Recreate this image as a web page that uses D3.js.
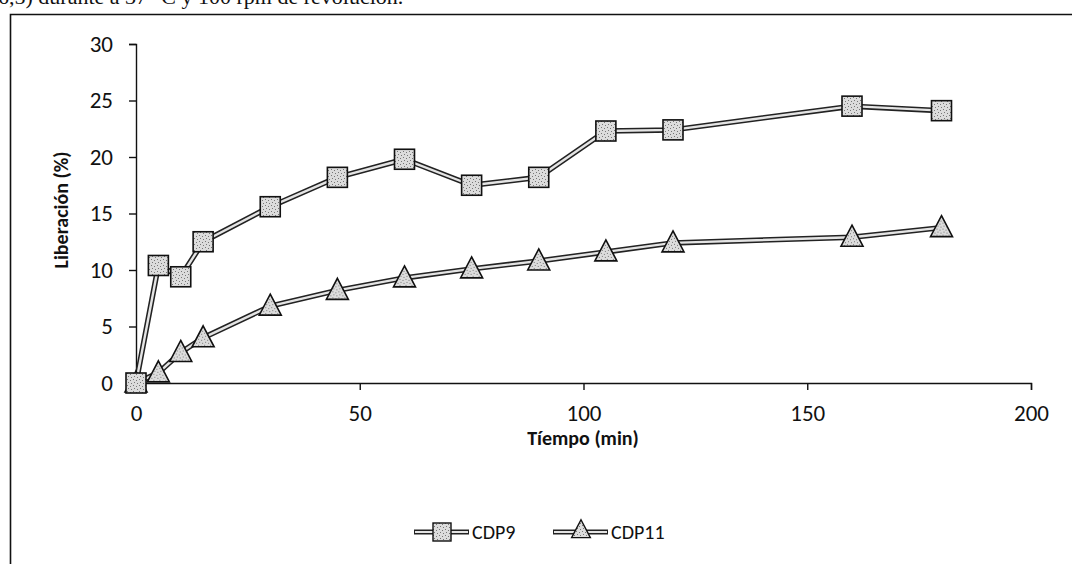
<!DOCTYPE html>
<html><head><meta charset="utf-8">
<script src="https://cdn.jsdelivr.net/npm/d3@7"></script>
<style>
html,body{margin:0;padding:0;background:#fff;}
svg{display:block;}
</style></head>
<body>
<svg id="c" width="1072" height="564"></svg>
<script>
const times = [0, 5, 10, 15, 30, 45, 60, 75, 90, 105, 120, 160, 180];
const cdp9  = [0, 10.4, 9.4, 12.5, 15.6, 18.2, 19.8, 17.5, 18.2, 22.3, 22.4, 24.5, 24.1];
const cdp11 = [0, 0.9, 2.7, 4.0, 6.8, 8.2, 9.3, 10.1, 10.8, 11.6, 12.4, 12.9, 13.75];
const seriesNames = ["CDP9", "CDP11"];
const xTicks = [0, 50, 100, 150, 200];
const yTicks = [0, 5, 10, 15, 20, 25, 30];
const xTitle = "Tíempo (min)";
const yTitle = "Liberación (%)";
const headerText = "6,5) durante a 37 °C y 100 rpm de revolución.";

const svg = d3.select("#c");
const font = "Carlito, Lato, 'Open Sans', sans-serif";

// stipple pattern
const defs = svg.append("defs");
const pat = defs.append("pattern").attr("id","stip").attr("width",6).attr("height",6).attr("patternUnits","userSpaceOnUse");
pat.append("rect").attr("width",6).attr("height",6).attr("fill","#dcdcdc");
[[1,1],[4,2],[2,4],[5,5]].forEach(p=>pat.append("rect").attr("x",p[0]).attr("y",p[1]).attr("width",1).attr("height",1).attr("fill","#777"));

// header text (cut off at top, as in the scan)
svg.append("text").attr("x",-2).attr("y",4).attr("font-family","'Liberation Serif', serif")
  .attr("font-size",22).attr("fill","#111").text(headerText);

// chart frame
svg.append("path").attr("d","M10.5,564 V14.5 H1072").attr("fill","none").attr("stroke","#111").attr("stroke-width",1.6);

const x = d3.scaleLinear().domain([0,200]).range([136,1031]);
const y = d3.scaleLinear().domain([0,30]).range([383,44]);

const xAxis = svg.append("g").attr("transform","translate(0,383)")
  .call(d3.axisBottom(x).tickValues(xTicks).tickSize(7).tickPadding(15));
const yAxis = svg.append("g").attr("transform","translate(136,0)")
  .call(d3.axisLeft(y).tickValues(yTicks).tickSize(7).tickPadding(16));
[xAxis,yAxis].forEach(g=>{
  g.select(".domain").attr("stroke","#111").attr("stroke-width",1.4);
  g.selectAll(".tick line").attr("stroke","#111").attr("stroke-width",1.4);
  g.selectAll(".tick text").attr("font-family",font).attr("font-size",23).attr("fill","#111");
});

svg.append("text").attr("x",583).attr("y",445).attr("text-anchor","middle")
  .attr("font-family",font).attr("font-weight","bold").attr("font-size",20).attr("fill","#111").text(xTitle);
svg.append("text").attr("transform","translate(68,210) rotate(-90)").attr("text-anchor","middle")
  .attr("font-family",font).attr("font-weight","bold").attr("font-size",20).attr("fill","#111").text(yTitle);

const line = d3.line().x(d=>x(d[0])).y(d=>y(d[1]));
function drawLine(vals){
  const pts = times.map((t,i)=>[t,vals[i]]);
  svg.append("path").attr("d",line(pts)).attr("fill","none").attr("stroke","#222").attr("stroke-width",5.5).attr("stroke-linejoin","round");
  svg.append("path").attr("d",line(pts)).attr("fill","none").attr("stroke","#e4e4e4").attr("stroke-width",2.4).attr("stroke-linejoin","round");
  return pts;
}
const p11 = drawLine(cdp11);
const p9 = drawLine(cdp9);

const tri = s => `M0,${-s*0.6} L${s*0.55},${s*0.45} L${-s*0.55},${s*0.45} Z`;
svg.append("g").selectAll("path").data(p11).join("path")
  .attr("transform",d=>`translate(${x(d[0])},${y(d[1])})`)
  .attr("d",tri(20)).attr("fill","url(#stip)").attr("stroke","#111").attr("stroke-width",1.6);
svg.append("g").selectAll("rect").data(p9).join("rect")
  .attr("x",d=>x(d[0])-10).attr("y",d=>y(d[1])-10).attr("width",20).attr("height",20)
  .attr("fill","url(#stip)").attr("stroke","#111").attr("stroke-width",1.6);

// legend
const leg = [{name:seriesNames[0],x0:414,shape:"sq"},{name:seriesNames[1],x0:553,shape:"tri"}];
leg.forEach(l=>{
  const g = svg.append("g");
  const ly = 532;
  g.append("line").attr("x1",l.x0).attr("x2",l.x0+55).attr("y1",ly).attr("y2",ly).attr("stroke","#222").attr("stroke-width",5);
  g.append("line").attr("x1",l.x0+1).attr("x2",l.x0+54).attr("y1",ly).attr("y2",ly).attr("stroke","#e4e4e4").attr("stroke-width",2);
  if(l.shape==="sq"){
    g.append("rect").attr("x",l.x0+19).attr("y",ly-9).attr("width",18).attr("height",18).attr("fill","url(#stip)").attr("stroke","#111").attr("stroke-width",1.4);
  } else {
    g.append("path").attr("transform",`translate(${l.x0+28},${ly-2})`).attr("d",tri(17)).attr("fill","url(#stip)").attr("stroke","#111").attr("stroke-width",1.4);
  }
  g.append("text").attr("x",l.x0+58).attr("y",ly+7).attr("font-family",font).attr("font-size",20).attr("fill","#111").text(l.name);
});
</script>
</body></html>
